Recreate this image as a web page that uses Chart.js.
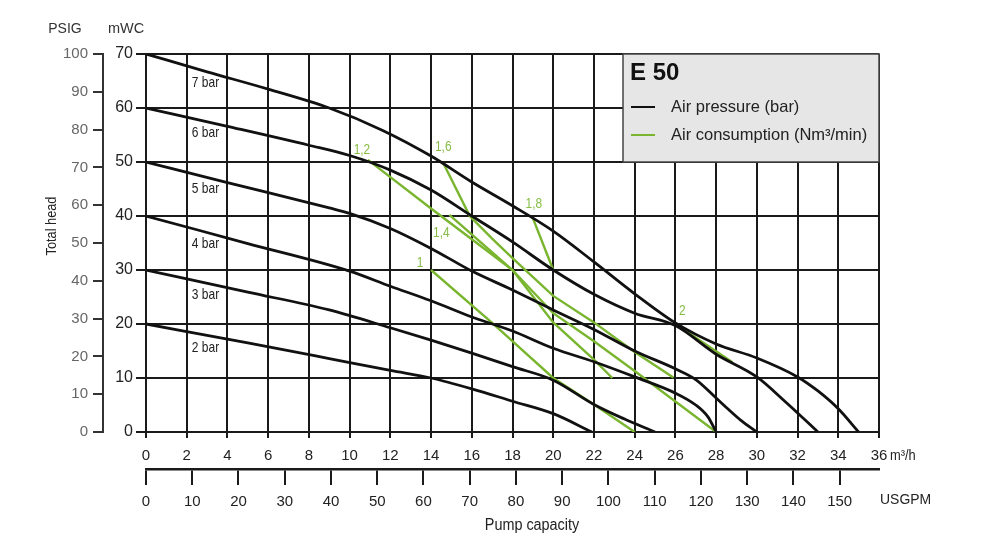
<!DOCTYPE html>
<html>
<head>
<meta charset="utf-8">
<script src="https://cdn.jsdelivr.net/npm/chart.js@4.4.1/dist/chart.umd.min.js"></script>
<style>
  html, body { margin: 0; padding: 0; background: #fff; }
  #wrap { width: 991px; height: 546px; }
</style>
</head>
<body>
<div id="wrap"><canvas id="chart"></canvas></div>
<script>
// E 50 pump curves: flow (m3/h) against total head (mWC)
const pressureNames = ["7 bar", "6 bar", "5 bar", "4 bar", "3 bar", "2 bar"];
const bar7 = [[0, 70], [3, 66.7], [6, 63.5], [9, 60], [11.6, 55.9], [14, 51.1], [16, 46.3], [18, 41.9], [20, 37.2], [22, 31.5], [24, 25.6], [26, 20.2], [28, 16.3], [30, 13.7], [32, 10.2], [33, 7.6], [34, 4.3], [35, 0]];
const bar6 = [[0, 60], [4, 56.6], [8, 53.1], [10, 51.2], [12, 48.5], [14, 44.8], [16, 40], [18, 35.2], [20, 30], [22, 25.5], [24, 22], [26, 19.7], [28, 14.4], [30, 10.2], [31.4, 5.6], [33, 0]];
const bar5 = [[0, 50], [4, 46.2], [9, 41.5], [10, 40.5], [12, 37.7], [14, 34], [16, 29.8], [18, 26.3], [20, 22.6], [22, 19], [24, 15], [26, 11.7], [27, 9.7], [28, 6.3], [28.6, 4.2], [29.2, 2.2], [30, 0]];
const bar4 = [[0, 40], [5, 34.9], [10, 29.8], [12, 27], [14, 24.3], [16, 21.3], [18, 18.7], [20, 15.5], [22, 13], [24, 10.2], [26, 7.2], [27, 5], [27.6, 2.8], [28, 0]];
const bar3 = [[0, 30], [5, 25.9], [9, 22.6], [12, 19.3], [14, 17], [16, 14.6], [18, 12.1], [20, 9.6], [22, 5.1], [23.5, 2.4], [25, 0]];
const bar2 = [[0, 20], [5, 16.5], [9, 13.6], [12, 11.4], [14, 10], [16, 8], [18, 5.7], [20, 3.4], [21.9, 0]];

// air consumption (Nm3/min) lines
const consumptionNames = ["1", "1,2", "1,4", "1,6", "1,8", "2"];
const air10 = [[14, 30], [17, 20.2], [20, 10], [22, 5.1], [24, 0]];
const air12 = [[10.9, 50.4], [14, 41.4], [16, 35.7], [18, 30], [20, 20.3], [22, 13.4], [22.9, 10]];
const air14 = [[14.9, 40.2], [18, 30], [20, 22], [22, 16.8], [24, 11.3], [28, 0]];
const air16 = [[14.6, 49.8], [15.9, 40], [17, 35.8], [18, 32.2], [20, 25.2], [22, 20.3], [24, 14.8], [25.9, 10.1]];
const air18 = [[19, 39.6], [20, 30]];
const air20 = [[26, 20], [28.8, 12.9]];

const usgpmPerM3h = 4.403;

const pressureCurves = [bar7, bar6, bar5, bar4, bar3, bar2];
const airLines = [air10, air12, air14, air16, air18, air20];
// where each consumption label sits next to the start of its line (px)
const airLabelShift = [[-11, -7], [-6, -10], [-8, 18], [0, -16], [1, -14], [7, -13]];

const GREEN = "#79b52e";
const GREEN_TEXT = "#86bd45";
const INK = "#1a1a1a";
const SANS = "'Liberation Sans', Arial, Helvetica, sans-serif";

const toPts = c => c.map(([x, y]) => ({ x, y }));

function headAt(curve, q) {
  for (let i = 1; i < curve.length; i++) {
    const [x0, y0] = curve[i - 1], [x1, y1] = curve[i];
    if (q <= x1) return y0 + (y1 - y0) * (q - x0) / (x1 - x0);
  }
  return curve[curve.length - 1][1];
}

function text(ctx, str, px, py, font, color, align = "left", sx = 1, rot = 0) {
  ctx.save();
  ctx.translate(px, py);
  if (rot) ctx.rotate(rot);
  ctx.scale(sx, 1);
  ctx.font = font;
  ctx.fillStyle = color;
  ctx.textAlign = align;
  ctx.textBaseline = "middle";
  ctx.fillText(str, 0, 0);
  ctx.restore();
}

const sheetText = {
  id: "sheetText",
  afterDraw(chart) {
    const { ctx, chartArea: a, scales: { x, y } } = chart;

    // legend box in the top right corner
    const bl = a.right - 256, bt = a.top, bb = y.getPixelForValue(50);
    ctx.save();
    ctx.fillStyle = "#e6e6e6";
    ctx.fillRect(bl, bt, a.right - bl, bb - bt);
    ctx.strokeStyle = "#444";
    ctx.lineWidth = 1.5;
    ctx.strokeRect(bl, bt, a.right - bl, bb - bt);
    ctx.lineWidth = 2;
    ctx.strokeStyle = "#111";
    ctx.beginPath(); ctx.moveTo(bl + 8, bt + 53); ctx.lineTo(bl + 32, bt + 53); ctx.stroke();
    ctx.strokeStyle = GREEN;
    ctx.beginPath(); ctx.moveTo(bl + 8, bt + 81); ctx.lineTo(bl + 32, bt + 81); ctx.stroke();
    ctx.restore();
    text(ctx, "E 50", bl + 7, bt + 19, "bold 24px " + SANS, "#111");
    text(ctx, "Air pressure (bar)", bl + 48, bt + 53, "16.5px " + SANS, "#222");
    text(ctx, "Air consumption (Nm³/min)", bl + 48, bt + 81, "16.5px " + SANS, "#222");

    // pressure curve names under each curve
    const lq = 2.25;
    pressureCurves.forEach((c, i) => {
      text(ctx, pressureNames[i], x.getPixelForValue(lq), y.getPixelForValue(headAt(c, lq)) + 15,
        "15px " + SANS, "#222", "left", 0.8);
    });

    // consumption values at the start of each green line
    airLines.forEach((c, i) => {
      const [dx, dy] = airLabelShift[i];
      text(ctx, consumptionNames[i], x.getPixelForValue(c[0][0]) + dx, y.getPixelForValue(c[0][1]) + dy,
        "14px " + SANS, GREEN_TEXT, "center", 0.85);
    });

    // axis headers and units
    text(ctx, "PSIG", a.left - 81, a.top - 25, "14px " + SANS, "#333", "center");
    text(ctx, "mWC", a.left - 20, a.top - 25, "14.5px " + SANS, "#333", "center");
    text(ctx, "Total head", a.left - 94, a.top + 172, "15px " + SANS, "#222", "center", 0.85, -Math.PI / 2);
    text(ctx, "m³/h", a.right + 11, a.bottom + 24, "14px " + SANS, "#222", "left", 0.92);
    text(ctx, "USGPM", a.right + 1, a.bottom + 68, "15px " + SANS, "#222", "left", 0.93);
    text(ctx, "Pump capacity", a.left + 386, a.bottom + 94, "16px " + SANS, "#222", "center", 0.9);
  }
};

new Chart(document.getElementById("chart"), {
  type: "line",
  data: {
    datasets: [
      ...pressureCurves.map((c, i) => ({
        label: pressureNames[i],
        data: toPts(c),
        borderColor: "#111",
        borderWidth: 2.8,
        cubicInterpolationMode: "monotone",
        order: 0,
      })),
      ...airLines.map((c, i) => ({
        label: consumptionNames[i],
        data: toPts(c),
        borderColor: GREEN,
        borderWidth: 2.4,
        tension: 0,
        order: 1,
      })),
    ],
  },
  options: {
    responsive: true,
    maintainAspectRatio: false,
    animation: false,
    elements: { point: { radius: 0 } },
    layout: { padding: { left: 40, top: 54, right: 112, bottom: 17 } },
    plugins: { legend: { display: false }, tooltip: { enabled: false } },
    scales: {
      x: {
        type: "linear",
        position: "bottom",
        weight: 0,
        min: 0,
        max: 36,
        ticks: { stepSize: 2, autoSkip: false, maxRotation: 0, color: "#222", padding: 9, font: { family: SANS, size: 15 } },
        grid: { color: INK, lineWidth: 2, tickLength: 6 },
        border: { color: INK, width: 2 },
        afterFit: s => { s.height = 37; },
      },
      x2: {
        type: "linear",
        position: "bottom",
        weight: 1,
        min: 0,
        max: 36 * usgpmPerM3h,
        ticks: { stepSize: 10, includeBounds: false, autoSkip: false, maxRotation: 0, color: "#222", padding: 8, font: { family: SANS, size: 15 } },
        grid: { drawOnChartArea: false, color: INK, lineWidth: 2, tickLength: 16 },
        border: { color: INK, width: 2.5 },
        afterFit: s => { s.height = 60; },
      },
      y: {
        type: "linear",
        position: "left",
        weight: 0,
        min: 0,
        max: 70,
        ticks: { stepSize: 10, color: "#222", padding: 3, font: { family: SANS, size: 16 } },
        grid: { color: INK, lineWidth: 2, tickLength: 10 },
        border: { color: INK, width: 2 },
        afterFit: s => { s.width = 43; },
      },
      y2: {
        type: "linear",
        position: "left",
        weight: 1,
        min: 0,
        max: 100,
        ticks: { stepSize: 10, color: "#666", padding: 5, font: { family: SANS, size: 15 } },
        grid: { drawOnChartArea: false, color: "#333", lineWidth: 2, tickLength: 10 },
        border: { color: "#333", width: 2 },
        afterFit: s => { s.width = 63; },
      },
    },
  },
  plugins: [sheetText],
});
</script>
</body>
</html>
